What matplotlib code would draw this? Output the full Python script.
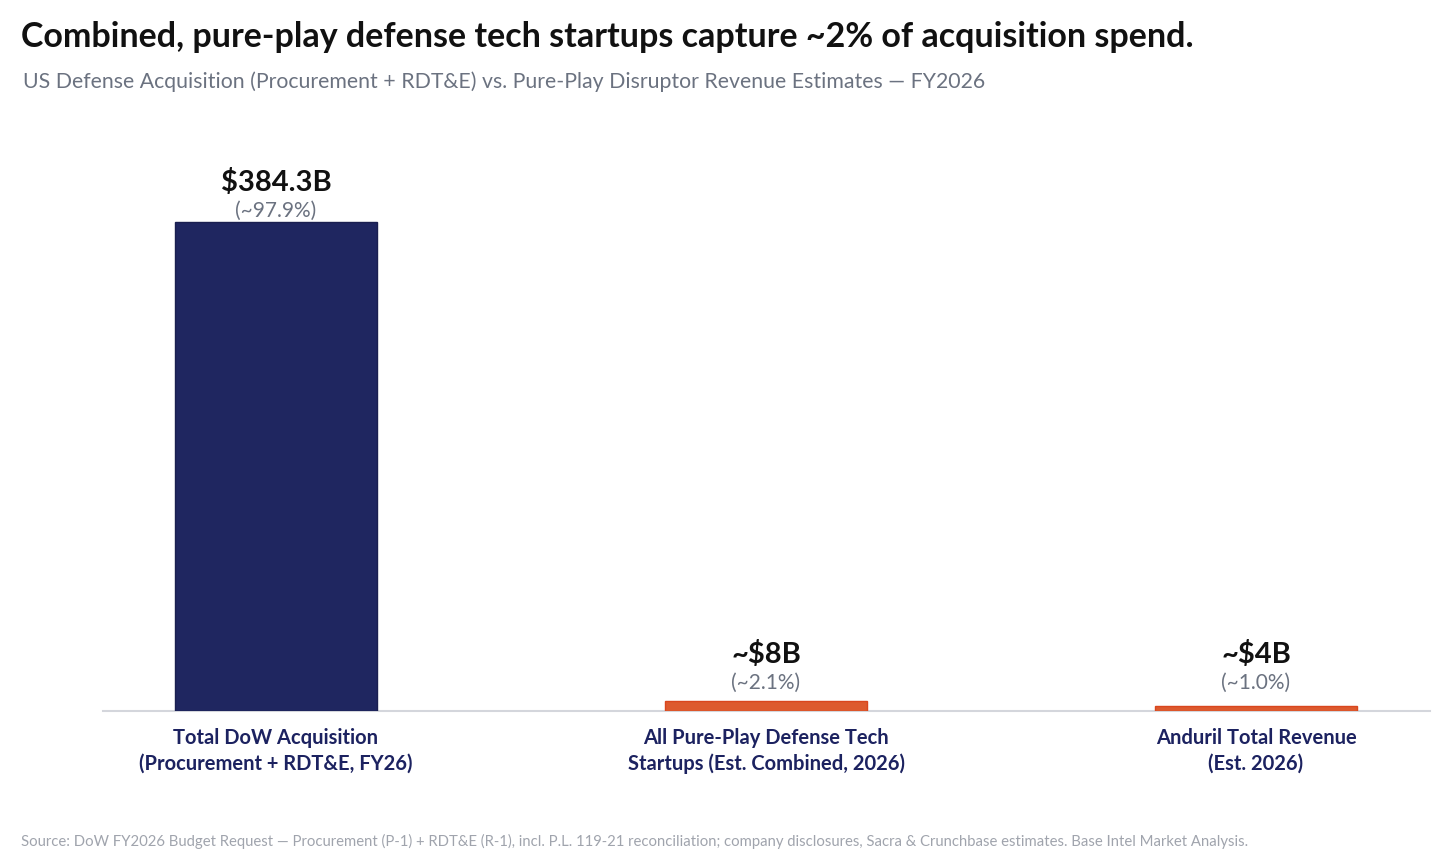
import matplotlib.pyplot as plt

plt.rcParams['font.family'] = ['Lato', 'DejaVu Sans']

# --- data -------------------------------------------------------------
categories = ["Total DoW Acquisition\n(Procurement + RDT&E, FY26)",
              "All Pure-Play Defense Tech\nStartups (Est. Combined, 2026)",
              "Anduril Total Revenue\n(Est. 2026)"]
values = [384.3, 8.0, 4.0]            # $B
value_labels = ["$384.3B", "~$8B", "~$4B"]
share_labels = ["(~97.9%)", "(~2.1%)", "(~1.0%)"]
bar_colors = ["#1f2660", "#dd5a2e", "#dd5a2e"]
edge_colors = ["#1a1f50", "#d9461e", "#d9461e"]

title = "Combined, pure-play defense tech startups capture ~2% of acquisition spend."
subtitle = "US Defense Acquisition (Procurement + RDT&E) vs. Pure-Play Disruptor Revenue Estimates \u2014 FY2026"
source = ("Source: DoW FY2026 Budget Request \u2014 Procurement (P-1) + RDT&E (R-1), incl. P.L. 119-21 "
          "reconciliation; company disclosures, Sacra & Crunchbase estimates. Base Intel Market Analysis.")

W, H = 1456, 867
fig = plt.figure(figsize=(W / 100, H / 100), dpi=100)

# axes: x 103..1430, baseline at y=711, top chosen so 384.3 -> y=222
ax_left, ax_right = 103 / W, 1430 / W
ax_bottom = 1 - 711 / H
ax_top = 1 - 150 / H
ax = fig.add_axes([ax_left, ax_bottom, ax_right - ax_left, ax_top - ax_bottom])

x = range(len(values))
ax.bar(x, values, width=0.414, color=bar_colors, edgecolor=edge_colors, linewidth=1.0, zorder=3)

ymax = values[0] * (711 - 150) / (711 - 222)
ax.set_ylim(0, ymax)
ax.set_xlim(-0.353, 2.355)

# small bars get their labels lifted a bit off the baseline
min_label_y = 13
for xi, v, vl, sl in zip(x, values, value_labels, share_labels):
    y_lab = max(v, min_label_y)
    ax.annotate(sl, (xi, y_lab), xytext=(0, 1), textcoords="offset points",
                ha="center", va="bottom", fontsize=15, color="#6b7280")
    ax.annotate(vl, (xi, y_lab), xytext=(0, 19), textcoords="offset points",
                ha="center", va="bottom", fontsize=21, fontweight="bold", color="#111111")

ax.set_xticks(list(x))
ax.set_xticklabels(categories, fontsize=14.5, fontweight="bold", color="#1c2260", linespacing=1.35)
ax.tick_params(axis="x", length=0, pad=12)
ax.set_yticks([])
for side in ["top", "right", "left"]:
    ax.spines[side].set_visible(False)
ax.spines["bottom"].set_color("#d4d6dc")
ax.spines["bottom"].set_linewidth(1.5)

fig.text(21 / W, 1 - 37 / H, title, fontsize=24.5, fontweight="bold", color="#111111", va="center", ha="left")
fig.text(23 / W, 1 - 82 / H, subtitle, fontsize=15.3, color="#6b7280", va="center", ha="left")
fig.text(21 / W, 1 - 841 / H, source, fontsize=10.75, color="#a0a4ad", va="center", ha="left")

fig.savefig("out.png", dpi=100, facecolor="white")
